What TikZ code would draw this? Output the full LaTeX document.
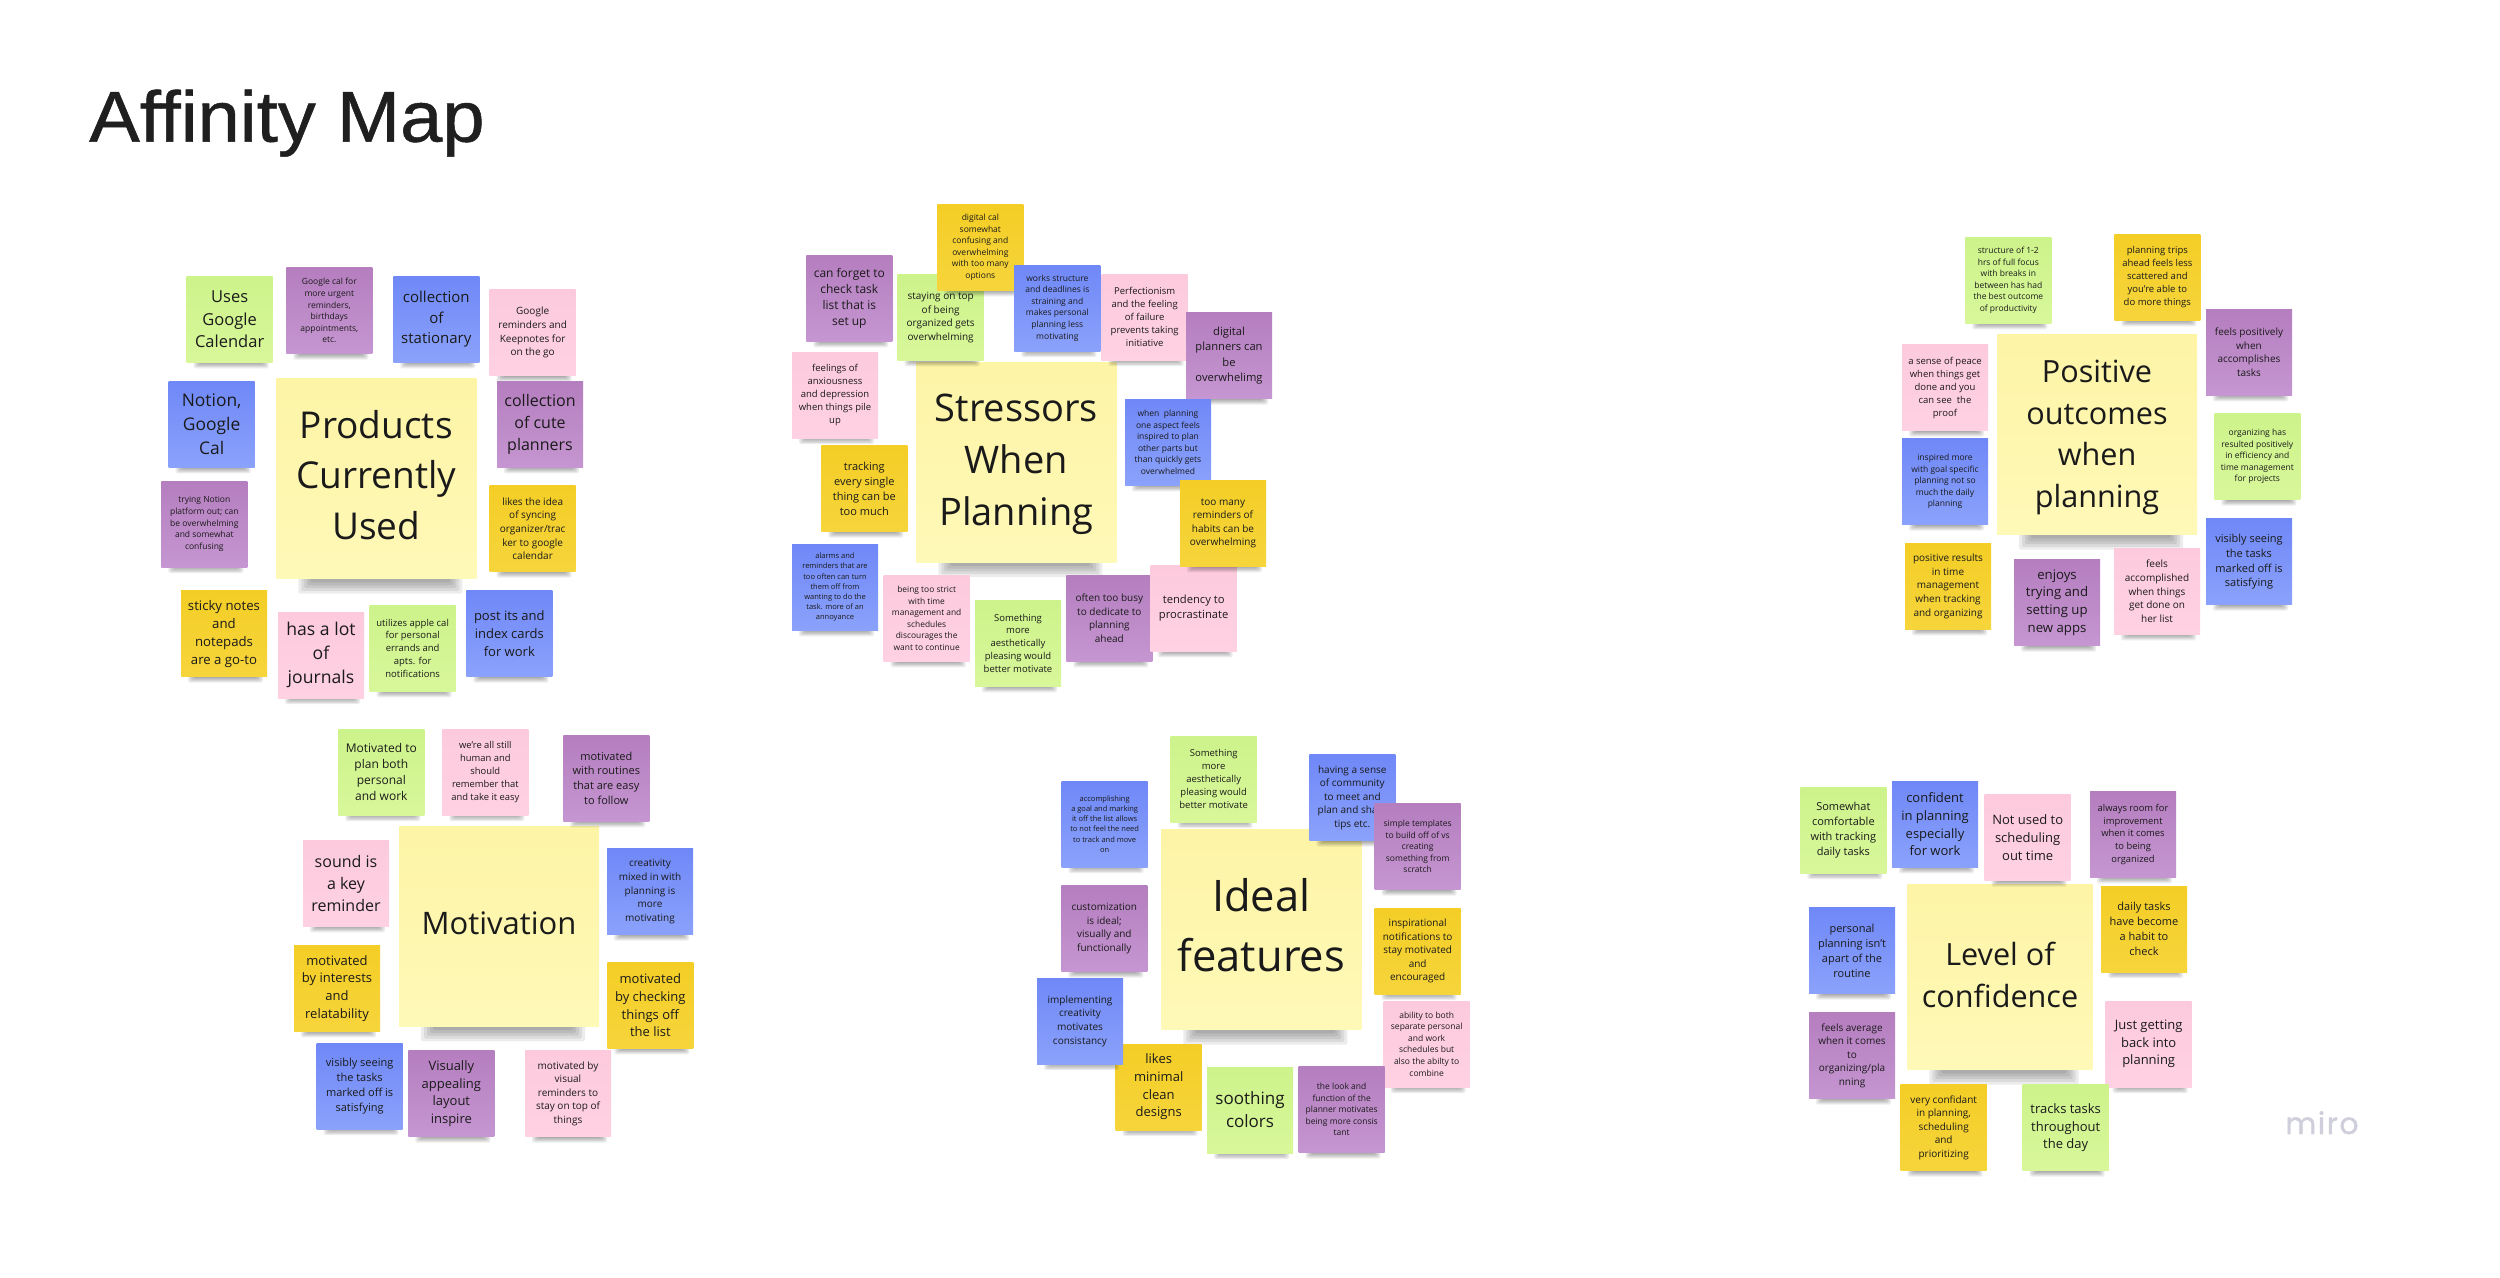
\documentclass[tikz,border=0pt]{standalone}
\usepackage{fontspec}
\setmainfont{Open Sans}
\newfontfamily\titlefont[FakeBold=0.7]{Liberation Sans}
\newfontfamily\logofont[FakeBold=1.2]{Poppins}
\definecolor{gA}{HTML}{CDF38B}\definecolor{gB}{HTML}{D8F79A}
\definecolor{pA}{HTML}{B57EBF}\definecolor{pB}{HTML}{C596D1}
\definecolor{bA}{HTML}{6F88F7}\definecolor{bB}{HTML}{8BA2FB}
\definecolor{kA}{HTML}{FDCADD}\definecolor{kB}{HTML}{FFD1E3}
\definecolor{yA}{HTML}{F4CE26}\definecolor{yB}{HTML}{F6D53C}
\definecolor{cA}{HTML}{FDF4A6}\definecolor{cB}{HTML}{FFF9B8}
\definecolor{inktext}{HTML}{1A1A1A}
\definecolor{titleink}{HTML}{1F1F1F}
\definecolor{logoink}{HTML}{CFCFDC}
\tikzset{
  notebase/.style={inner sep=0pt,align=center,text=inktext},
  note/.style={notebase,minimum size=86pt},
  grn/.style={top color=gA,bottom color=gB},
  pur/.style={top color=pA,bottom color=pB},
  blu/.style={top color=bA,bottom color=bB},
  pnk/.style={top color=kA,bottom color=kB},
  yel/.style={top color=yA,bottom color=yB},
  cen/.style={top color=cA,bottom color=cB},
  shadowlayer/.style={fill=black,opacity=.075,rounded corners=1.5pt},
  zoomA/.style={shift={(140,250)},x=0.33333pt,y=-0.33333pt},
  zoomB/.style={shift={(770,190)},x=0.33333pt,y=-0.33333pt},
  zoomC/.style={shift={(1880,220)},x=0.33333pt,y=-0.33333pt},
  zoomD/.style={shift={(280,720)},x=0.33333pt,y=-0.33333pt},
  zoomE/.style={shift={(1020,725)},x=0.33333pt,y=-0.33333pt},
  zoomF/.style={shift={(1790,770)},x=0.33333pt,y=-0.33333pt},
}
\newcommand{\nfont}[1]{\fontsize{#1pt}{\the\dimexpr #1pt*136/100\relax}\selectfont}
% name, x, y, colour, font size, text
\newcommand{\nn}[6]{%
  \begin{scope}[shift={(#2,#3)},x=1pt,y=-1pt]
    \foreach \k in {0,...,4}
      \fill[shadowlayer] (-43+7+\k*1.5,42) rectangle (43-4-\k*1.5,43+6-\k*1.2);
  \end{scope}
  \node[note,#4,font=\nfont{#5}] (#1) at (#2,#3) {#6};
}
% name, x, y, half width, font size, raise, text
\newcommand{\cn}[7]{%
  \begin{scope}[shift={(#2,#3)},x=1pt,y=-1pt]
    \foreach \k in {0,...,4}
      \fill[shadowlayer] (-#4+22+\k*3,#4-1) rectangle (#4-14-\k*3,#4+15-\k*2.8);
  \end{scope}
  \node[inner sep=0pt,text=inktext,cen,minimum size=2*#4 pt,font=\nfont{#5}] (#1) at (#2,#3)
    {\raisebox{#6pt}[\height][\depth]{\begin{tabular}{@{}c@{}}#7\end{tabular}}};
}
\begin{document}
\begin{tikzpicture}[x=1pt,y=-1pt]
\useasboundingbox (0,0) rectangle (2500,1277);
\fill[white] (0,0) rectangle (2500,1277);
\node[anchor=base west,inner sep=0pt,text=titleink,xscale=1.055,font=\titlefont\fontsize{72pt}{80pt}\selectfont] (title) at (89,141.7) {Affinity Map};
\node[anchor=base,inner sep=0pt,text=logoink,font=\logofont\fontsize{30pt}{34pt}\selectfont] (miro) at (2322,1134) {m\kern1.5pt i\kern1.5pt r\kern1.5pt o};

\begin{scope}[zoomA]
\cn{a0}{709}{686}{100}{37}{0}{Products\\Currently\\Used}
\nn{a1}{269}{208}{grn}{16.5}{Uses\\Google\\Calendar}
\nn{a2}{568}{182}{pur}{8.5}{Google cal for\\more urgent\\reminders,\\birthdays\\appointments,\\etc.}
\nn{a3}{889}{208}{blu}{15}{collection\\of\\stationary}
\nn{a4}{1178}{248}{pnk}{10}{Google\\reminders and\\Keepnotes for\\on the go}
\nn{a5}{215}{523}{blu}{17.4}{Notion,\\Google\\Cal}
\nn{a6}{1200}{523}{pur}{16}{collection\\of cute\\planners}
\nn{a7}{193}{822}{pur}{8.5}{trying Notion\\platform out; can\\be overwhelming\\and somewhat\\confusing}
\nn{a8}{1178}{836}{yel}{10}{likes the idea\\of syncing\\organizer/trac\\ker to google\\calendar}
\nn{a9}{252}{1151}{yel}{13.2}{sticky notes\\and\\notepads\\are a go-to}
\nn{a10}{543}{1215}{pnk}{17.6}{has a lot\\of\\journals}
\nn{a11}{818}{1195}{grn}{9.5}{utilizes apple cal\\for personal\\errands and\\apts. for\\notifications}
\nn{a12}{1108}{1151}{blu}{13}{post its and\\index cards\\for work}
\end{scope}

\begin{scope}[zoomB]
\cn{b0}{739}{816}{100}{38}{-1}{Stressors\\When\\Planning}
\nn{b1}{238}{325}{pur}{12}{can forget to\\check task\\list that is\\set up}
\nn{b2}{512}{382}{grn}{10}{staying on top\\of being\\organized gets\\overwhelming}
\nn{b3}{631}{172}{yel}{8.5}{digital cal\\somewhat\\confusing and\\overwhelming\\with too many\\options}
\nn{b4}{862}{354}{blu}{8.5}{works structure\\and deadlines is\\straining and\\makes personal\\planning less\\motivating}
\nn{b5}{1124}{381}{pnk}{9.5}{Perfectionism\\and the feeling\\of failure\\prevents taking\\initiative}
\nn{b6}{1377}{497}{pur}{11.2}{digital\\planners can\\be\\overwhelimg}
\nn{b7}{195}{615}{pnk}{9.5}{feelings of\\anxiousness\\and depression\\when things pile\\up}
\nn{b8}{1194}{757}{blu}{8.5}{when\ \ planning\\one aspect feels\\inspired to plan\\other parts but\\than quickly gets\\overwhelmed}
\nn{b9}{283}{896}{yel}{11}{tracking\\every single\\thing can be\\too much}
\nn{b10}{195}{1192}{blu}{7.5}{alarms and\\reminders that are\\too often can turn\\them off from\\wanting to do the\\task. more of an\\annoyance}
\nn{b11}{470}{1285}{pnk}{8.4}{being too strict\\with time\\management and\\schedules\\discourages the\\want to continue}
\nn{b12}{744}{1360}{grn}{9.5}{Something\\more\\aesthetically\\pleasing would\\better motivate}
\nn{b13}{1018}{1285}{pur}{10}{often too busy\\to dedicate to\\planning\\ahead}
\nn{b14}{1271}{1255}{pnk}{11.2}{tendency to\\procrastinate}
\nn{b15}{1359}{1000}{yel}{10}{too many\\reminders of\\habits can be\\overwhelming}
\end{scope}

\begin{scope}[zoomC]
\cn{c0}{651}{644}{100}{30.6}{-2}{Positive\\outcomes\\when\\planning}
\nn{c1}{385}{181}{grn}{8.5}{structure of 1-2\\hrs of full focus\\with breaks in\\between has had\\the best outcome\\of productivity}
\nn{c2}{832}{172}{yel}{9.5}{planning trips\\ahead feels less\\scattered and\\you're able to\\do more things}
\nn{c3}{1107}{397}{pur}{10}{feels positively\\when\\accomplishes\\tasks}
\nn{c4}{195}{503}{pnk}{9.5}{a sense of peace\\when things get\\done and you\\can see\ \ the\\proof}
\nn{c5}{1132}{710}{grn}{8.5}{organizing has\\resulted positively\\in efficiency and\\time management\\for projects}
\nn{c6}{195}{785}{blu}{8.5}{inspired more\\with goal specific\\planning not so\\much the daily\\planning}
\nn{c7}{1107}{1025}{blu}{11}{visibly seeing\\the tasks\\marked off is\\satisfying}
\nn{c8}{204}{1099}{yel}{10}{positive results\\in time\\management\\when tracking\\and organizing}
\nn{c9}{531}{1148}{pur}{13.2}{enjoys\\trying and\\setting up\\new apps}
\nn{c10}{831}{1114}{pnk}{10}{feels\\accomplished\\when things\\get done on\\her list}
\end{scope}

\begin{scope}[zoomD]
\cn{d0}{657}{619}{100}{31}{0}{Motivation}
\nn{d1}{304}{156}{grn}{12}{Motivated to\\plan both\\personal\\and work}
\nn{d2}{616}{156}{pnk}{9.4}{we're all still\\human and\\should\\remember that\\and take it easy}
\nn{d3}{979}{175}{pur}{11}{motivated\\with routines\\that are easy\\to follow}
\nn{d4}{198}{490}{pnk}{16}{sound is\\a key\\reminder}
\nn{d5}{1110}{515}{blu}{10}{creativity\\mixed in with\\planning is\\more\\motivating}
\nn{d6}{171}{805}{yel}{13}{motivated\\by interests\\and\\relatability}
\nn{d7}{1111}{856}{yel}{13}{motivated\\by checking\\things off\\the list}
\nn{d8}{239}{1098}{blu}{11}{visibly seeing\\the tasks\\marked off is\\satisfying}
\nn{d9}{514}{1121}{pur}{13}{Visually\\appealing\\layout\\inspire}
\nn{d10}{864}{1121}{pnk}{10}{motivated by\\visual\\reminders to\\stay on top of\\things}
\end{scope}

\begin{scope}[zoomE]
\cn{e0}{724}{614}{100}{43.5}{0}{Ideal\\features}
\nn{e1}{581}{162}{grn}{9.5}{Something\\more\\aesthetically\\pleasing would\\better motivate}
\nn{e2}{997}{218}{blu}{10}{having a sense\\of community\\to meet and\\plan and share\\tips etc.}
\nn{e3}{254}{297}{blu}{7.5}{accomplishing\\a goal and marking\\it off the list allows\\to not feel the need\\to track and move\\on}
\nn{e4}{1193}{365}{pur}{8.5}{simple templates\\to build off of vs\\creating\\something from\\scratch}
\nn{e5}{253}{611}{pur}{10}{customization\\is ideal;\\visually and\\functionally}
\nn{e6}{1193}{678}{yel}{10}{inspirational\\notifications to\\stay motivated\\and\\encouraged}
\nn{e7}{416}{1086}{yel}{13}{likes\\minimal\\clean\\designs}
\nn{e8}{180}{888}{blu}{10}{implementing\\creativity\\motivates\\consistancy}
\nn{e9}{1220}{957}{pnk}{8.5}{ability to both\\separate personal\\and work\\schedules but\\also the abilty to\\combine}
\nn{e10}{690}{1155}{grn}{17}{soothing\\colors}
\nn{e11}{965}{1154}{pur}{8.5}{the look and\\function of the\\planner motivates\\being more consis\\tant}
\end{scope}

\begin{scope}[zoomF]
\cn{f0}{630}{621}{92.7}{30.6}{-1}{Level of\\confidence}
\nn{f1}{160}{180}{grn}{11}{Somewhat\\comfortable\\with tracking\\daily tasks}
\nn{f2}{435}{163}{blu}{13}{confident\\in planning\\especially\\for work}
\nn{f3}{713}{203}{pnk}{13}{Not used to\\scheduling\\out time}
\nn{f4}{1029}{193}{pur}{9.4}{always room for\\improvement\\when it comes\\to being\\organized}
\nn{f5}{1062}{477}{yel}{11}{daily tasks\\have become\\a habit to\\check}
\nn{f6}{186}{542}{blu}{11}{personal\\planning isn't\\apart of the\\routine}
\nn{f7}{1076}{822}{pnk}{13}{Just getting\\back into\\planning}
\nn{f8}{186}{857}{pur}{10}{feels average\\when it comes\\to\\organizing/pla\\nning}
\nn{f9}{461}{1073}{yel}{10}{very confidant\\in planning,\\scheduling\\and\\prioritizing}
\nn{f10}{827}{1073}{grn}{13}{tracks tasks\\throughout\\the day}
\end{scope}
\end{tikzpicture}
\end{document}
